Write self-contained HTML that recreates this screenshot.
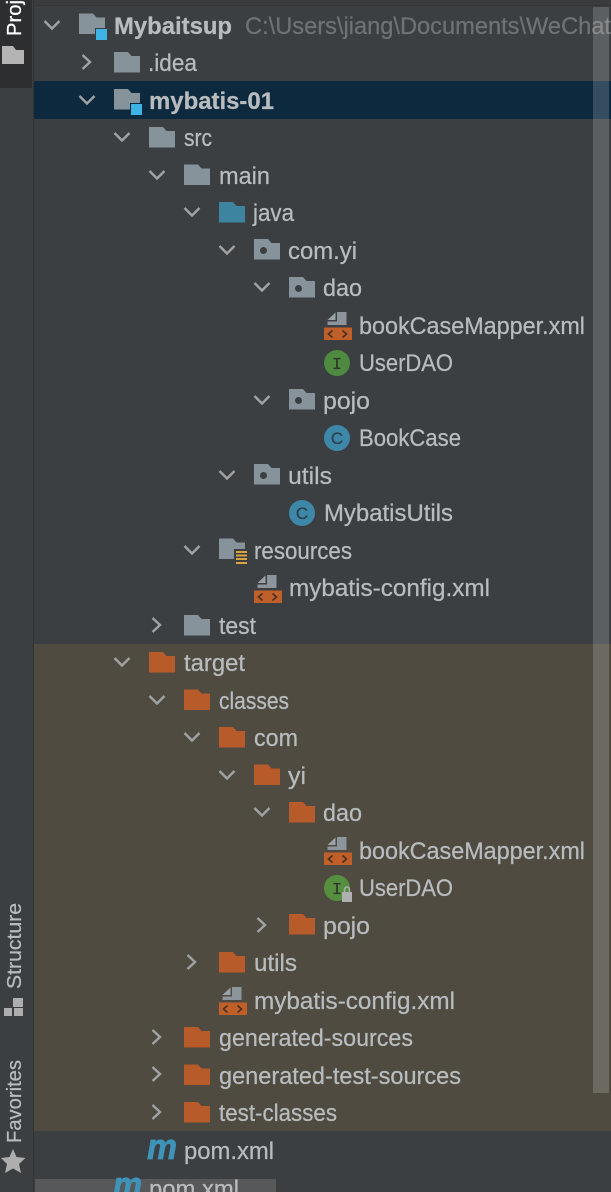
<!DOCTYPE html>
<html><head><meta charset="utf-8"><style>
html,body{margin:0;padding:0;background:#3c3f41}
svg{display:block}
text{font-family:"Liberation Sans",sans-serif;font-size:24px;fill:#b8bcbe;stroke:#b8bcbe;stroke-width:0.25px}
.b{font-weight:bold}
</style></head><body>
<svg width="611" height="1192" viewBox="0 0 611 1192" xmlns="http://www.w3.org/2000/svg">
<defs>
<path id="f" d="M0 0H14L17.500 4H26V20.500H0Z"/>
<path id="p" fill-rule="evenodd" d="M0 0H14L17.500 4H26V20.500H0ZM9.500 8A3.500 3.500 0 1 0 9.500 15A3.500 3.500 0 1 0 9.500 8Z"/>
<polyline id="d" points="-7.500,-4 0,3.500 7.500,-4" fill="none" stroke="#a0a2a4" stroke-width="2.400"/>
<polyline id="r" points="-3.500,-7 4,0 -3.500,7" fill="none" stroke="#a0a2a4" stroke-width="2.400"/>
<g id="x">
<path d="M13 -14H22.500V-1H3.500V-4.500H13Z" fill="#8b959b"/>
<path d="M3.500 -6L11.500 -13.500V-6Z" fill="#9aa3a8"/>
<rect x="0" y="1.500" width="28" height="12.500" fill="#c05f2a"/>
<polyline points="8.500,4.500 4.500,8 8.500,11.500" fill="none" stroke="#45301f" stroke-width="1.600"/>
<polyline points="18.500,4.500 22.500,8 18.500,11.500" fill="none" stroke="#45301f" stroke-width="1.600"/>
</g>
</defs>

<rect width="611" height="1192" fill="#3c3f41"/>
<rect x="34" y="0" width="577" height="5" fill="#393b3d"/>
<rect x="34" y="5" width="577" height="1" fill="#343638"/>
<rect x="34" y="81" width="577" height="38" fill="#0d293e"/>
<rect x="34" y="644" width="577" height="487" fill="#4f4b41"/>

<!-- sidebar -->
<rect x="0" y="0" width="32" height="88" fill="#2d2e2f"/>
<rect x="33" y="0" width="1" height="1192" fill="#323436"/>
<text transform="translate(21 36) rotate(-90)" textLength="36" lengthAdjust="spacingAndGlyphs" style="font-size:20px;fill:#ffffff;stroke:#ffffff">Proj</text>
<path d="M2 46H13L16 50H24V64H2Z" fill="#b4b4b4"/>
<text transform="translate(21 989) rotate(-90)" textLength="86" lengthAdjust="spacingAndGlyphs" style="font-size:20px">Structure</text>
<rect x="13" y="998" width="10" height="9" fill="#aeaeae"/>
<rect x="4" y="1008" width="8" height="8" fill="#aeaeae"/>
<rect x="14" y="1008" width="9" height="8" fill="#aeaeae"/>
<text transform="translate(21 1143) rotate(-90)" textLength="83" lengthAdjust="spacingAndGlyphs" style="font-size:20px">Favorites</text>
<polygon points="13,1149 16.500,1157 25.500,1158 19,1164 21,1173 13,1168.500 5,1173 7,1164 1,1158 9.500,1157" fill="#aeaeae"/>

<!-- row 0 -->
<use href="#d" x="52" y="25"/>
<use href="#f" x="79" y="13.500" fill="#87939a"/>
<rect x="95" y="28" width="13" height="13" fill="#3c3f41"/>
<rect x="96" y="29" width="11" height="11" fill="#3db3e6"/>
<text class="b" x="114" y="34" textLength="118" lengthAdjust="spacingAndGlyphs">Mybaitsup</text>
<text x="245" y="34" textLength="366" lengthAdjust="spacingAndGlyphs" style="fill:#6f7274;stroke:#6f7274">C:\Users\jiang\Documents\WeChat</text>

<!-- .idea -->
<use href="#r" x="86" y="62"/>
<use href="#f" x="114" y="52" fill="#87939a"/>
<text x="148" y="71" textLength="49" lengthAdjust="spacingAndGlyphs">.idea</text>

<!-- mybatis-01 -->
<use href="#d" x="87" y="100"/>
<use href="#f" x="114" y="89" fill="#87939a"/>
<rect x="130" y="103" width="13" height="13" fill="#0d293e"/>
<rect x="131" y="104" width="11" height="11" fill="#3db3e6"/>
<text class="b" x="149" y="109" textLength="125" lengthAdjust="spacingAndGlyphs">mybatis-01</text>

<!-- src -->
<use href="#d" x="122" y="137"/>
<use href="#f" x="149" y="127" fill="#87939a"/>
<text x="184" y="146" textLength="28" lengthAdjust="spacingAndGlyphs">src</text>

<!-- main -->
<use href="#d" x="157" y="175"/>
<use href="#f" x="184" y="164.500" fill="#87939a"/>
<text x="219" y="184" textLength="51" lengthAdjust="spacingAndGlyphs">main</text>

<!-- java -->
<use href="#d" x="192" y="212"/>
<use href="#f" x="219" y="202" fill="#3d84a0"/>
<text x="253" y="221" textLength="41" lengthAdjust="spacingAndGlyphs">java</text>

<!-- com.yi -->
<use href="#d" x="227" y="250"/>
<use href="#p" x="254" y="239" fill="#87939a"/>
<text x="288" y="259" textLength="69" lengthAdjust="spacingAndGlyphs">com.yi</text>

<!-- dao -->
<use href="#d" x="262" y="287"/>
<use href="#p" x="289" y="277" fill="#87939a"/>
<text x="323" y="296" textLength="39" lengthAdjust="spacingAndGlyphs">dao</text>

<!-- bookCaseMapper -->
<use href="#x" x="324" y="326"/>
<text x="359" y="334" textLength="226" lengthAdjust="spacingAndGlyphs">bookCaseMapper.xml</text>

<!-- UserDAO -->
<circle cx="337" cy="363" r="13" fill="#4e8a3f"/>
<text x="337" y="369" text-anchor="middle" style="font-family:'Liberation Mono',monospace;font-size:17px;fill:#2f3a2b;stroke:#2f3a2b">I</text>
<text x="359" y="371" textLength="94" lengthAdjust="spacingAndGlyphs">UserDAO</text>

<!-- pojo -->
<use href="#d" x="262" y="400"/>
<use href="#p" x="289" y="389" fill="#87939a"/>
<text x="323" y="409" textLength="47" lengthAdjust="spacingAndGlyphs">pojo</text>

<!-- BookCase -->
<circle cx="337" cy="438" r="13" fill="#3d88a8"/>
<text x="337" y="444" text-anchor="middle" style="font-size:17px;fill:#2b3f4a;stroke:#2b3f4a">C</text>
<text x="359" y="446" textLength="102" lengthAdjust="spacingAndGlyphs">BookCase</text>

<!-- utils -->
<use href="#d" x="227" y="475"/>
<use href="#p" x="254" y="464" fill="#87939a"/>
<text x="288" y="484" textLength="44" lengthAdjust="spacingAndGlyphs">utils</text>

<!-- MybatisUtils -->
<circle cx="302" cy="513" r="13" fill="#3d88a8"/>
<text x="302" y="519" text-anchor="middle" style="font-size:17px;fill:#2b3f4a;stroke:#2b3f4a">C</text>
<text x="324" y="521" textLength="129" lengthAdjust="spacingAndGlyphs">MybatisUtils</text>

<!-- resources -->
<use href="#d" x="192" y="550"/>
<use href="#f" x="219" y="538.500" fill="#87939a"/>
<rect x="234" y="549" width="14" height="16" fill="#3c3f41"/>
<rect x="236" y="551" width="11" height="2" fill="#d9a343"/>
<rect x="236" y="554.500" width="11" height="2" fill="#d9a343"/>
<rect x="236" y="558" width="11" height="2" fill="#d9a343"/>
<rect x="236" y="562" width="11" height="2" fill="#d9a343"/>
<text x="254" y="559" textLength="98" lengthAdjust="spacingAndGlyphs">resources</text>

<!-- mybatis-config -->
<use href="#x" x="254" y="589"/>
<text x="289" y="596" textLength="201" lengthAdjust="spacingAndGlyphs">mybatis-config.xml</text>

<!-- test -->
<use href="#r" x="156" y="625"/>
<use href="#f" x="184" y="615" fill="#87939a"/>
<text x="219" y="634" textLength="37" lengthAdjust="spacingAndGlyphs">test</text>

<!-- target -->
<use href="#d" x="122" y="662"/>
<use href="#f" x="149" y="652" fill="#b85b2b"/>
<text x="184" y="671" textLength="61" lengthAdjust="spacingAndGlyphs">target</text>

<!-- classes -->
<use href="#d" x="157" y="700"/>
<use href="#f" x="184" y="689.500" fill="#b85b2b"/>
<text x="219" y="709" textLength="70" lengthAdjust="spacingAndGlyphs">classes</text>

<!-- com -->
<use href="#d" x="192" y="737"/>
<use href="#f" x="219" y="727" fill="#b85b2b"/>
<text x="254" y="746" textLength="44" lengthAdjust="spacingAndGlyphs">com</text>

<!-- yi -->
<use href="#d" x="227" y="775"/>
<use href="#f" x="254" y="764.500" fill="#b85b2b"/>
<text x="288" y="784" textLength="18" lengthAdjust="spacingAndGlyphs">yi</text>

<!-- dao -->
<use href="#d" x="262" y="812"/>
<use href="#f" x="289" y="802" fill="#b85b2b"/>
<text x="323" y="821" textLength="39" lengthAdjust="spacingAndGlyphs">dao</text>

<!-- bookCaseMapper -->
<use href="#x" x="324" y="851"/>
<text x="359" y="859" textLength="226" lengthAdjust="spacingAndGlyphs">bookCaseMapper.xml</text>

<!-- UserDAO locked -->
<circle cx="337" cy="888" r="13" fill="#568f3f"/>
<text x="337" y="894" text-anchor="middle" style="font-family:'Liberation Mono',monospace;font-size:17px;fill:#2f3a2b;stroke:#2f3a2b">I</text>
<rect x="342" y="892" width="10" height="10" fill="#b0b0b0"/>
<path d="M344.500 892V889.500A2.500 2.500 0 0 1 349.500 889.500V892" fill="none" stroke="#b0b0b0" stroke-width="1.500"/>
<text x="359" y="896" textLength="94" lengthAdjust="spacingAndGlyphs">UserDAO</text>

<!-- pojo -->
<use href="#r" x="261" y="925"/>
<use href="#f" x="289" y="914" fill="#b85b2b"/>
<text x="323" y="934" textLength="47" lengthAdjust="spacingAndGlyphs">pojo</text>

<!-- utils -->
<use href="#r" x="191" y="962"/>
<use href="#f" x="219" y="952" fill="#b85b2b"/>
<text x="254" y="971" textLength="43" lengthAdjust="spacingAndGlyphs">utils</text>

<!-- mybatis-config -->
<use href="#x" x="219" y="1001"/>
<text x="254" y="1009" textLength="201" lengthAdjust="spacingAndGlyphs">mybatis-config.xml</text>

<!-- generated -->
<use href="#r" x="156" y="1037"/>
<use href="#f" x="184" y="1027" fill="#b85b2b"/>
<text x="219" y="1046" textLength="194" lengthAdjust="spacingAndGlyphs">generated-sources</text>

<use href="#r" x="156" y="1074"/>
<use href="#f" x="184" y="1064.500" fill="#b85b2b"/>
<text x="219" y="1084" textLength="242" lengthAdjust="spacingAndGlyphs">generated-test-sources</text>

<use href="#r" x="156" y="1112"/>
<use href="#f" x="184" y="1102" fill="#b85b2b"/>
<text x="219" y="1121" textLength="118" lengthAdjust="spacingAndGlyphs">test-classes</text>

<!-- pom -->
<text x="147" y="1159" textLength="30" lengthAdjust="spacingAndGlyphs" style="font-size:36px;font-weight:bold;font-style:italic;fill:#3d94b8;stroke:#3d94b8;stroke-width:0.8px">m</text>
<text x="184" y="1159" textLength="90" lengthAdjust="spacingAndGlyphs">pom.xml</text>

<!-- drag ghost -->
<rect x="35" y="1179" width="241" height="13" fill="#56585a"/>
<text x="113" y="1197" textLength="29" lengthAdjust="spacingAndGlyphs" style="font-size:36px;font-weight:bold;font-style:italic;fill:#3d94b8;stroke:#3d94b8;stroke-width:0.8px">m</text>
<text x="149" y="1197" textLength="90" lengthAdjust="spacingAndGlyphs">pom.xml</text>

<!-- scrollbar overlay -->
<rect x="593" y="7" width="16" height="1086" fill="#ffffff" fill-opacity="0.17"/>
</svg>
</body></html>
